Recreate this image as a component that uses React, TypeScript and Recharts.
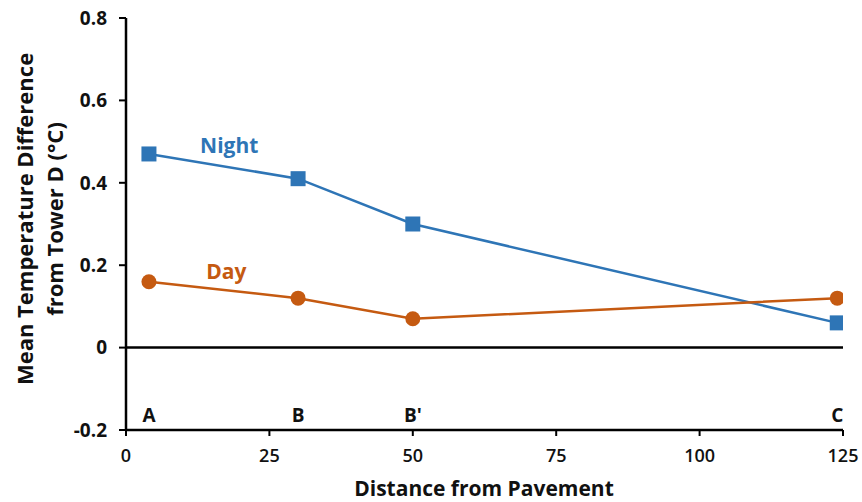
import React from 'react'
import { LineChart, Line, XAxis, YAxis, ReferenceLine, ReferenceDot, LabelList } from 'recharts'

const nightData = [
  { distance: 4, value: 0.47 },
  { distance: 30, value: 0.41 },
  { distance: 50, value: 0.3 },
  { distance: 124, value: 0.06 },
]

const dayData = [
  { distance: 4, value: 0.16 },
  { distance: 30, value: 0.12 },
  { distance: 50, value: 0.07 },
  { distance: 124, value: 0.12 },
]

const siteLabels = [
  { distance: 4, value: -0.2, site: 'A' },
  { distance: 30, value: -0.2, site: 'B' },
  { distance: 50, value: -0.2, site: "B'" },
  { distance: 124, value: -0.2, site: 'C' },
]

const xTicks = [0, 25, 50, 75, 100, 125]
const yTicks = [-0.2, 0, 0.2, 0.4, 0.6, 0.8]

const NIGHT = '#2E75B6'
const DAY = '#C55A11'
const FONT = '"Open Sans", sans-serif'

const SquareDot = (props: any) => {
  const { cx, cy, index } = props
  if (cx == null || cy == null) return null
  return <rect key={`sq-${index}`} x={cx - 7.5} y={cy - 7.5} width={15} height={15} fill={NIGHT} />
}

const CircleDot = (props: any) => {
  const { cx, cy, index } = props
  if (cx == null || cy == null) return null
  return <circle key={`ci-${index}`} cx={cx} cy={cy} r={7.5} fill={DAY} />
}

export default function App() {
  return (
    <div style={{ position: 'absolute', left: 0, top: 0, width: 862, height: 502, background: '#fff' }}>
      <LineChart width={862} height={502} margin={{ top: 18, right: 19, left: 0, bottom: 0 }}>
        <XAxis
          type="number"
          dataKey="distance"
          domain={[0, 125]}
          ticks={xTicks}
          height={72}
          axisLine={{ stroke: '#000', strokeWidth: 2.5 }}
          tickLine={{ stroke: '#000', strokeWidth: 2 }}
          tickSize={6}
          tickMargin={13}
          tick={{ fill: '#111', fontSize: 18, fontWeight: 600, fontFamily: FONT }}
          allowDataOverflow
        />
        <YAxis
          type="number"
          domain={[-0.2, 0.8]}
          ticks={yTicks}
          width={126}
          axisLine={{ stroke: '#000', strokeWidth: 2.5 }}
          tickLine={{ stroke: '#000', strokeWidth: 2 }}
          tickSize={7}
          tickMargin={12}
          tick={{ fill: '#111', fontSize: 19, fontWeight: 700, fontFamily: FONT }}
          tickFormatter={(v: number) => (v === 0 ? '0' : v.toFixed(1))}
        />
        <ReferenceLine y={0} stroke="#000" strokeWidth={2.5} />
        <Line
          data={siteLabels}
          dataKey="value"
          stroke="none"
          dot={false}
          activeDot={false}
          isAnimationActive={false}
        >
          <LabelList
            dataKey="site"
            position="top"
            offset={8}
            fill="#111"
            fontSize={19}
            fontWeight={700}
            fontFamily={FONT}
          />
        </Line>
        <Line
          data={nightData}
          dataKey="value"
          stroke={NIGHT}
          strokeWidth={2.5}
          dot={SquareDot}
          activeDot={false}
          isAnimationActive={false}
        />
        <Line
          data={dayData}
          dataKey="value"
          stroke={DAY}
          strokeWidth={2.5}
          dot={CircleDot}
          activeDot={false}
          isAnimationActive={false}
        />
        <ReferenceDot
          x={18}
          y={0.49}
          r={0}
          label={{ value: 'Night', fill: NIGHT, fontSize: 21, fontWeight: 700, fontFamily: FONT, position: 'center' }}
        />
        <ReferenceDot
          x={17.5}
          y={0.185}
          r={0}
          label={{ value: 'Day', fill: DAY, fontSize: 21, fontWeight: 700, fontFamily: FONT, position: 'center' }}
        />
      </LineChart>
      <svg width={862} height={502} style={{ position: 'absolute', left: 0, top: 0, pointerEvents: 'none' }}>
        <text
          transform="translate(24 219) rotate(-90)"
          textAnchor="middle"
          dominantBaseline="central"
          fontFamily={FONT}
          fontWeight={700}
          fontSize={22}
          fill="#111"
        >
          Mean Temperature Difference
        </text>
        <text
          transform="translate(54 219) rotate(-90)"
          textAnchor="middle"
          dominantBaseline="central"
          fontFamily={FONT}
          fontWeight={700}
          fontSize={22}
          fill="#111"
        >
          from Tower D (°C)
        </text>
        <text x={484} y={496} textAnchor="middle" fontFamily={FONT} fontWeight={700} fontSize={21} fill="#111">
          Distance from Pavement
        </text>
      </svg>
    </div>
  )
}
